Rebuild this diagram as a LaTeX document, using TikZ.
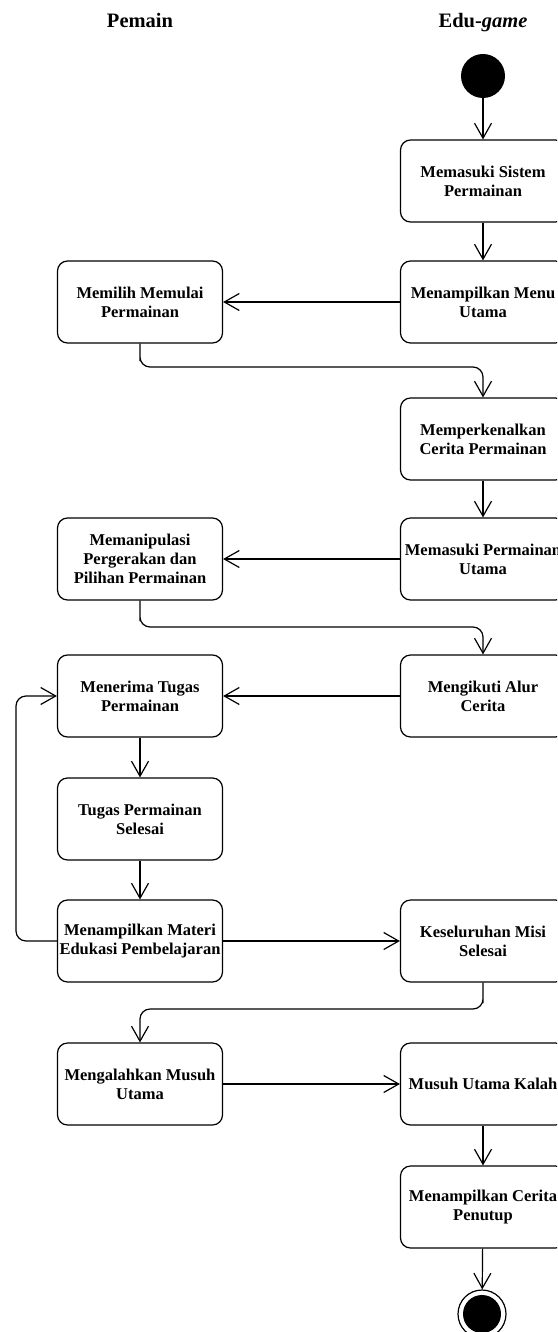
\documentclass[tikz,border=0pt]{standalone}
\usepackage{fontspec}
\setmainfont{Liberation Serif}
\usetikzlibrary{arrows.meta}
\tikzset{
  act/.style={draw, line width=1.2pt, rounded corners=10pt, minimum width=165pt,
    minimum height=82pt, inner sep=0pt, align=center,
    font=\fontsize{16.5}{19}\selectfont\bfseries},
  lane/.style={font=\fontsize{20.5}{24}\selectfont\bfseries, anchor=base},
  flow/.style={draw, line width=1.2pt, rounded corners=10pt,
    -{Straight Barb[length=15pt,width=17pt,line width=1.2pt]}},
}
\begin{document}
\begin{tikzpicture}[x=1pt,y=-1pt]
\useasboundingbox (0,0) rectangle (557,1332);
\clip (0,0) rectangle (557,1332);

% swimlane titles
\node[lane] (hPemain) at (140,28) {Pemain};
\node[lane] (hGame) at (483,28) {Edu-\textit{game}};

% initial and final states
\node[circle, fill=black, minimum size=44pt, inner sep=0pt] (start) at (483,76) {};
\node[circle, draw, line width=1.2pt, minimum size=48pt, inner sep=0pt] (stop) at (482,1314) {};
\fill[black] (stop.center) circle (19pt);

% activities of the game
\node[act] (sistem) at (483,181) {Memasuki Sistem\\Permainan};
\node[act] (menu) at (483,302) {Menampilkan Menu\\Utama};
\node[act] (cerita) at (483,439) {Memperkenalkan\\Cerita Permainan};
\node[act] (utama) at (483,559) {Memasuki Permainan\\Utama};
\node[act] (alur) at (483,696) {Mengikuti Alur\\Cerita};
\node[act] (misi) at (483,941) {Keseluruhan Misi\\Selesai};
\node[act] (kalah) at (483,1084) {Musuh Utama Kalah};
\node[act] (penutup) at (483,1207) {Menampilkan Cerita\\Penutup};

% activities of the player
\node[act] (memilih) at (140,302) {Memilih Memulai\\Permainan};
\node[act] (manip) at (140,559) {Memanipulasi\\Pergerakan dan\\Pilihan Permainan};
\node[act] (tugas) at (140,696) {Menerima Tugas\\Permainan};
\node[act] (selesai) at (140,819) {Tugas Permainan\\Selesai};
\node[act] (materi) at (140,941) {Menampilkan Materi\\Edukasi Pembelajaran};
\node[act] (musuh) at (140,1084) {Mengalahkan Musuh\\Utama};

% control flow
\draw[flow] (start) -- (sistem);
\draw[flow] (sistem) -- (menu);
\draw[flow] (menu) -- (memilih);
\draw[flow] (memilih.south) |- (140,367) -| (cerita.north);
\draw[flow] (cerita) -- (utama);
\draw[flow] (utama) -- (manip);
\draw[flow] (manip.south) |- (140,627) -| (alur.north);
\draw[flow] (alur) -- (tugas);
\draw[flow] (tugas) -- (selesai);
\draw[flow] (selesai) -- (materi);
\draw[flow] (materi.west) -- (16,941) |- (tugas.west);
\draw[flow] (materi) -- (misi);
\draw[flow] (misi.south) |- (483,1009) -| (musuh.north);
\draw[flow] (musuh) -- (kalah);
\draw[flow] (kalah) -- (penutup);
\draw[flow] (penutup) -- (stop);
\end{tikzpicture}
\end{document}
